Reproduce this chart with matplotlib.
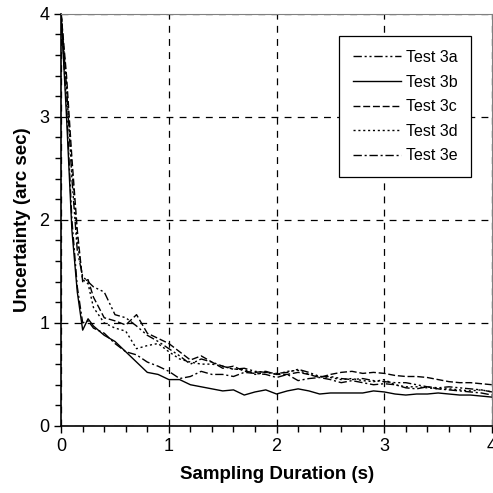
import matplotlib
matplotlib.use("Agg")
import matplotlib.pyplot as plt
from matplotlib.ticker import MultipleLocator

plt.rcParams["font.family"] = ["Liberation Sans", "DejaVu Sans"]

# sampling duration (s)
duration = [0.0, 0.05, 0.1, 0.15, 0.2, 0.25, 0.3,
            0.4, 0.5, 0.6, 0.7, 0.8, 0.9, 1.0, 1.1, 1.2, 1.3,
            1.4, 1.5, 1.6, 1.7, 1.8, 1.9, 2.0, 2.1, 2.2, 2.3,
            2.4, 2.5, 2.6, 2.7, 2.8, 2.9, 3.0, 3.1, 3.2, 3.3,
            3.4, 3.5, 3.6, 3.7, 3.8, 3.9, 4.0]

test_3a = [4.0, 3.3, 2.4, 1.7, 1.45, 1.40, 1.35,
           1.30, 1.08, 1.05, 0.97, 0.88, 0.82, 0.75, 0.68, 0.60, 0.65,
           0.62, 0.58, 0.55, 0.56, 0.53, 0.52, 0.51, 0.52, 0.55, 0.52,
           0.48, 0.48, 0.46, 0.45, 0.46, 0.44, 0.43, 0.42, 0.42, 0.40,
           0.38, 0.37, 0.38, 0.37, 0.36, 0.35, 0.33]

test_3b = [4.0, 3.0, 1.9, 1.3, 0.93, 1.04, 0.97,
           0.88, 0.82, 0.72, 0.62, 0.52, 0.50, 0.45, 0.45, 0.40, 0.38,
           0.36, 0.34, 0.35, 0.30, 0.33, 0.35, 0.31, 0.34, 0.36, 0.34,
           0.31, 0.32, 0.32, 0.32, 0.32, 0.34, 0.33, 0.31, 0.30, 0.31,
           0.31, 0.32, 0.31, 0.30, 0.30, 0.29, 0.28]

test_3c = [4.0, 3.4, 2.6, 1.9, 1.4, 1.42, 1.25,
           1.05, 1.02, 0.98, 1.08, 0.90, 0.85, 0.80, 0.72, 0.64, 0.68,
           0.62, 0.56, 0.58, 0.53, 0.52, 0.53, 0.50, 0.50, 0.52, 0.50,
           0.47, 0.50, 0.52, 0.53, 0.51, 0.52, 0.51, 0.49, 0.48, 0.48,
           0.47, 0.45, 0.43, 0.42, 0.42, 0.41, 0.40]

test_3d = [4.0, 3.3, 2.5, 1.8, 1.42, 1.38, 1.15,
           1.0, 0.95, 0.92, 0.75, 0.78, 0.80, 0.72, 0.65, 0.62, 0.60,
           0.60, 0.58, 0.55, 0.55, 0.50, 0.52, 0.50, 0.53, 0.54, 0.50,
           0.48, 0.47, 0.45, 0.46, 0.44, 0.43, 0.45, 0.40, 0.38, 0.38,
           0.37, 0.36, 0.36, 0.35, 0.34, 0.35, 0.33]

test_3e = [4.0, 3.1, 2.0, 1.35, 1.0, 1.02, 0.95,
           0.90, 0.80, 0.72, 0.69, 0.62, 0.58, 0.53, 0.46, 0.48, 0.53,
           0.50, 0.50, 0.48, 0.52, 0.51, 0.50, 0.47, 0.50, 0.44, 0.46,
           0.47, 0.45, 0.42, 0.44, 0.42, 0.40, 0.41, 0.40, 0.37, 0.36,
           0.38, 0.36, 0.35, 0.34, 0.33, 0.32, 0.30]

series = [
    ("Test 3a", test_3a, (0, (6, 2, 1.5, 2, 1.5, 2))),
    ("Test 3b", test_3b, "-"),
    ("Test 3c", test_3c, (0, (5, 2))),
    ("Test 3d", test_3d, (0, (1.5, 2))),
    ("Test 3e", test_3e, (0, (6, 2, 1.5, 2))),
]

fig = plt.figure(figsize=(4.93, 4.93), dpi=100)
ax = fig.add_axes([0.124, 0.136, 0.874, 0.836])

for label, vals, ls in series:
    ax.plot(duration, vals, color="black", lw=1.0, linestyle=ls, label=label)

ax.set_xlim(0, 4)
ax.set_ylim(0, 4)
ax.xaxis.set_major_locator(MultipleLocator(1))
ax.yaxis.set_major_locator(MultipleLocator(1))
ax.xaxis.set_minor_locator(MultipleLocator(0.2))
ax.yaxis.set_minor_locator(MultipleLocator(0.2))
ax.tick_params(which="both", direction="out", width=1, labelsize=13)
ax.tick_params(which="major", length=5)
ax.tick_params(which="minor", length=4)
ax.grid(True, which="major", color="black", linestyle=(0, (5.5, 5)), lw=0.9)

for side in ("top", "right"):
    ax.spines[side].set_color("#808080")
for side in ("left", "bottom"):
    ax.spines[side].set_linewidth(1.2)

ax.set_xlabel("Sampling Duration (s)", fontsize=13.5, fontweight="bold", labelpad=8)
ax.set_ylabel("Uncertainty (arc sec)", fontsize=13.5, fontweight="bold", labelpad=6)

leg = ax.legend(loc="upper right", bbox_to_anchor=(0.952, 0.945), fontsize=11.5,
                handlelength=3.0, labelspacing=0.6, borderpad=0.85,
                borderaxespad=0.0, handletextpad=0.35, fancybox=False,
                framealpha=1)
leg.get_frame().set_edgecolor("black")
leg.get_frame().set_linewidth(0.9)

fig.savefig("out.png", dpi=100)
